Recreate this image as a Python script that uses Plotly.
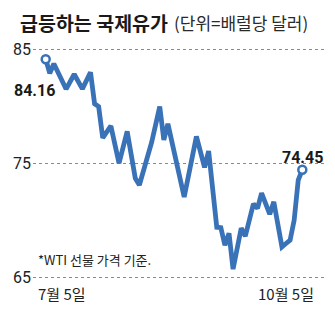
import plotly.graph_objects as go

# WTI futures closing prices (USD/bbl), turning points by trading-day index
day_idx = [0, 1, 2, 5, 7, 9, 11, 12, 13, 14, 16, 18, 20, 22, 23, 26, 28, 29, 30,
           34, 37, 39, 40, 42, 43, 44, 45, 46, 48, 49, 51, 52, 53, 55, 56, 58,
           59, 60, 61, 62, 63]
price = [84.16, 82.93, 83.77, 81.54, 82.84, 81.56, 83.02, 80.24, 80.00, 77.25,
         78.30, 75.02, 77.82, 73.70, 73.11, 76.85, 80.00, 77.07, 78.48,
         72.05, 77.38, 74.65, 76.10, 69.40, 69.36, 67.82, 68.88, 65.72, 69.32,
         68.61, 71.46, 71.05, 72.40, 70.55, 71.63, 67.67, 67.97, 68.26, 70.02,
         73.55, 74.45]

y_ticks = [65, 75, 85]
start_label = "7월 5일"
end_label = "10월 5일"
title = "급등하는 국제유가"
unit = "(단위=배럴당 달러)"
note = "*WTI 선물 가격 기준."

BLUE = "#3a72b8"
KR = "Noto Sans CJK KR"
NUM = "Roboto, Noto Sans, sans-serif"

fig = go.Figure()
fig.add_trace(go.Scatter(
    x=day_idx, y=price, mode="lines",
    line=dict(color=BLUE, width=4.8, shape="linear"),
    hoverinfo="skip", showlegend=False,
))
fig.add_trace(go.Scatter(
    x=[day_idx[0], day_idx[-1]], y=[price[0], price[-1]], mode="markers",
    marker=dict(size=8, color="white", line=dict(color=BLUE, width=2.5)),
    hoverinfo="skip", showlegend=False,
))

annotations = [
    dict(x=0, y=1, xref="paper", yref="paper", xshift=-15, yshift=22,
         xanchor="left", yanchor="middle", showarrow=False,
         text=f"<b>{title}</b>", font=dict(family=KR, size=19.5, color="#1a1a1a")),
    dict(x=0, y=1, xref="paper", yref="paper", xshift=139, yshift=22,
         xanchor="left", yanchor="middle", showarrow=False,
         text=unit, font=dict(family=KR, size=17, color="#2a2a2a")),
    dict(x=day_idx[0], y=price[0], xref="x", yref="y", xshift=-11, yshift=-31,
         xanchor="center", yanchor="middle", showarrow=False,
         text=f"<b>{price[0]:.2f}</b>", font=dict(family=NUM, size=16, color="#1a1a1a")),
    dict(x=day_idx[-1], y=price[-1], xref="x", yref="y", xshift=0, yshift=12,
         xanchor="center", yanchor="middle", showarrow=False,
         text=f"<b>{price[-1]:.2f}</b>", font=dict(family=NUM, size=16, color="#1a1a1a")),
    dict(x=day_idx[0], y=65, xref="x", yref="y", xshift=-10, yshift=18,
         xanchor="left", yanchor="middle", showarrow=False,
         text=note, font=dict(family=KR, size=13, color="#222")),
    dict(x=day_idx[0], y=65, xref="x", yref="y", xshift=-10, yshift=-16,
         xanchor="left", yanchor="middle", showarrow=False,
         text=start_label, font=dict(family=KR, size=15, color="#222")),
    dict(x=day_idx[-1], y=65, xref="x", yref="y", xshift=14, yshift=-16,
         xanchor="right", yanchor="middle", showarrow=False,
         text=end_label, font=dict(family=KR, size=15, color="#222")),
]

fig.update_layout(
    width=335, height=333,
    margin=dict(l=33, r=10, t=44, b=50, pad=0),
    paper_bgcolor="white", plot_bgcolor="white",
    annotations=annotations,
    xaxis=dict(range=[-3.12, 68.57], showgrid=False, zeroline=False,
               showticklabels=False, showline=False, ticks=""),
    yaxis=dict(range=[64.5, 85.5], tickvals=y_ticks,
               ticktext=[str(v) for v in y_ticks],
               showgrid=True, gridcolor="#8a8a8a", gridwidth=1, griddash="dot",
               zeroline=False, showline=False, ticks="", ticklabelstandoff=1,
               tickfont=dict(family=NUM, size=16, color="#222")),
)

fig.write_html("out.html", config={"displayModeBar": False})
